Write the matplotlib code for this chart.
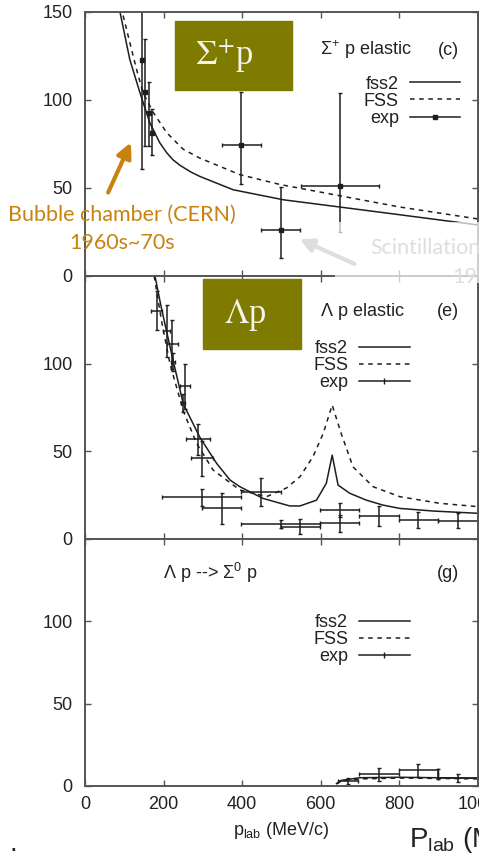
import numpy as np
import matplotlib
matplotlib.use('Agg')
import matplotlib.pyplot as plt
from matplotlib.lines import Line2D
from matplotlib.patches import Rectangle, FancyArrowPatch

plt.rcParams['font.family'] = ['Liberation Sans', 'DejaVu Sans']
plt.rcParams['mathtext.fontset'] = 'custom'
plt.rcParams['mathtext.rm'] = 'Liberation Sans'
plt.rcParams['mathtext.it'] = 'Liberation Sans:italic'
plt.rcParams['mathtext.bf'] = 'Liberation Sans:bold'

# --- Sigma+ p elastic (c) ---
sp_fss2_x = [89, 114, 140, 165, 190, 208, 224, 241, 270, 292, 377, 505, 648, 801, 1000]
sp_fss2_y = [150, 123, 104, 87, 75.8, 70, 66, 63, 59, 56.6, 49, 43.3, 39.2, 34.8, 29]
sp_fss_x = [97, 114, 131, 148, 174, 208, 250, 292, 394, 496, 648, 801, 1000]
sp_fss_y = [148, 132.7, 117.5, 104, 92.8, 81.4, 72, 67, 57.6, 52, 45.6, 39.2, 32.4]
sp_exp_x = [144, 152.5, 163.5, 171, 398, 498, 648]
sp_exp_y = [123, 104.6, 92.8, 81.4, 74.7, 25.9, 51.3]
sp_exp_xerr = [0, 0, 0, 0, 50, 49, 99]
sp_exp_ylo = [62, 30.8, 19, 12.4, 22.4, 15.8, 26.4]
sp_exp_yhi = [62, 30, 17.5, 13.3, 29.9, 24.7, 52.5]

# --- Lambda p elastic (e) ---
lp_fss2_x = [178, 195, 224, 250, 292, 335, 369, 394, 453, 521, 547, 589, 614,
             629, 644, 674, 716, 758, 801, 886, 1000]
lp_fss2_y = [150, 131, 102, 77, 58, 43, 33.5, 29.7, 23, 18.7, 18.7, 22, 31.6,
             47.7, 30.6, 25.9, 22, 19.2, 17.3, 15.8, 14.5]
lp_fss_x = [176, 195, 216, 250, 284, 326, 394, 462, 513, 547, 580, 606, 629,
            652, 682, 733, 801, 903, 1000]
lp_fss_y = [150, 124, 100, 73, 54.4, 39.2, 27.8, 24, 29, 35.4, 46.8, 60, 76.3,
            60, 41, 29.7, 24, 20.2, 18.3]
lp_exp_x = [182, 207.5, 222.6, 224.5, 254, 250, 288, 296.5, 296.5, 347.5,
            447.5, 497.5, 548, 648, 648, 748, 848, 949]
lp_exp_y = [130.3, 118.5, 111, 100.8, 87, 77.6, 56.7, 45.9, 23.6, 17.3,
            26.8, 8.4, 6.9, 16.4, 8.8, 13.1, 10.7, 10.3]
lp_exp_xerr = [13, 8, 14, 5, 13, 5, 30, 28, 100, 50,
               51, 100, 50, 50, 50, 50, 50, 50]
lp_exp_yerr = [11, 15, 14, 5, 13, 5, 9, 10, 5, 8.7,
               8, 2.5, 4.3, 4, 4.8, 5.7, 4.5, 4.3]

# --- Lambda p -> Sigma0 p (g) ---
ls_fss2_x = [640, 652, 699, 801, 900, 1000]
ls_fss2_y = [1.5, 3.4, 5.0, 5.3, 5.0, 4.7]
ls_fss_x = [640, 652, 699, 801, 900, 1000]
ls_fss_y = [1.2, 3.0, 4.3, 4.8, 4.6, 4.3]
ls_exp_x = [670, 748, 848, 897, 949]
ls_exp_y = [3.0, 7.2, 9.5, 7.2, 4.7]
ls_exp_xerr = [25, 50, 50, 0, 50]
ls_exp_yerr = [2.0, 4.0, 4.0, 3.2, 2.4]

xticks = [0, 200, 400, 600, 800, 1000]
yticks = [0, 50, 100, 150]

W, H = 479, 856
fig = plt.figure(figsize=(W / 100, H / 100), dpi=100)

ink = '#1e1e1e'
frame = '#555555'


def px(x0, y0, x1, y1):
    # pixel box -> figure fraction rect
    return [x0 / W, 1 - y1 / H, (x1 - x0) / W, (y1 - y0) / H]


ax1 = fig.add_axes(px(85, 12, 478, 276))
ax2 = fig.add_axes(px(85, 276, 478, 538.7))
ax3 = fig.add_axes(px(85, 538.7, 478, 786))

panels = [
    (ax1, sp_fss2_x, sp_fss2_y, sp_fss_x, sp_fss_y),
    (ax2, lp_fss2_x, lp_fss2_y, lp_fss_x, lp_fss_y),
    (ax3, ls_fss2_x, ls_fss2_y, ls_fss_x, ls_fss_y),
]
for ax, x2, y2, xf, yf in panels:
    ax.plot(x2, y2, color=ink, lw=1.1)
    ax.plot(xf, yf, color=ink, lw=1.1, dashes=(3, 3))
    ax.set_xlim(0, 1000)
    ax.set_ylim(0, 150)
    ax.set_xticks(xticks)
    ax.set_yticks(yticks)
    ax.tick_params(direction='in', top=True, right=True, length=4, width=1,
                   color=frame, labelsize=13, labelcolor='#222222', pad=9)
    for s in ax.spines.values():
        s.set_color(frame)
        s.set_linewidth(1.4)

ax1.errorbar(sp_exp_x, sp_exp_y, xerr=sp_exp_xerr,
             yerr=[sp_exp_ylo, sp_exp_yhi], fmt='s', ms=3, color=ink,
             ecolor=ink, elinewidth=1.1, capsize=1.5)
ax2.errorbar(lp_exp_x, lp_exp_y, xerr=lp_exp_xerr, yerr=lp_exp_yerr,
             fmt='none', ecolor=ink, elinewidth=1.1, capsize=1.5)
ax3.errorbar(ls_exp_x, ls_exp_y, xerr=ls_exp_xerr, yerr=ls_exp_yerr,
             fmt='none', ecolor=ink, elinewidth=1.1, capsize=1.5)

ax1.set_xticklabels([])
ax2.set_xticklabels([])
ax2.set_yticklabels(['0', '50', '100', ''])
ax3.set_yticklabels(['0', '50', '100', ''])
ax3.tick_params(axis='x', pad=7)
ax3.set_xlabel(r'p$_{\mathrm{lab}}$ (MeV/c)', fontsize=13, color='#222222',
               labelpad=5)

# panel titles
ax1.text(0.598, 0.856, r'$\Sigma^{+}$ p elastic', transform=ax1.transAxes,
         fontsize=13, va='center', color='#222222')
ax1.text(0.898, 0.856, '(c)', transform=ax1.transAxes, fontsize=13,
         va='center', color='#222222')
ax2.text(0.598, 0.864, r'$\Lambda$ p elastic', transform=ax2.transAxes,
         fontsize=13, va='center', color='#222222')
ax2.text(0.896, 0.864, '(e)', transform=ax2.transAxes, fontsize=13,
         va='center', color='#222222')
ax3.text(0.198, 0.861, r'$\Lambda$ p --> $\Sigma^{0}$ p',
         transform=ax3.transAxes, fontsize=13, va='center', color='#222222')
ax3.text(0.896, 0.861, '(g)', transform=ax3.transAxes, fontsize=13,
         va='center', color='#222222')

# legends
def add_legend(ax, marker, ms, anchor):
    hs = [Line2D([], [], color=ink, lw=1.1),
          Line2D([], [], color=ink, lw=1.1, dashes=(3, 3)),
          Line2D([], [], color=ink, lw=1.1, marker=marker, ms=ms)]
    ax.legend(hs, ['fss2', 'FSS', 'exp'], loc='upper right',
              bbox_to_anchor=anchor, frameon=False, markerfirst=False,
              fontsize=13, handlelength=2.8, handletextpad=0.6,
              labelspacing=0.01, borderpad=0, borderaxespad=0,
              labelcolor='#222222')


add_legend(ax1, 's', 3.5, (0.955, 0.759))
add_legend(ax2, '|', 5, (0.826, 0.756))
add_legend(ax3, '|', 5, (0.826, 0.696))

# slide overlays
olive = '#7f7a00'
fig.add_artist(Rectangle((175 / W, 1 - 90 / H), 117 / W, 69 / H,
                         transform=fig.transFigure, color=olive, zorder=5))
fig.text(195 / W, 1 - 56 / H, r'$\Sigma^{+}$p', fontsize=25,
         family='Liberation Serif', math_fontfamily='stix', color='#f4f4ea',
         va='center', ha='left', zorder=6)
fig.add_artist(Rectangle((203 / W, 1 - 349 / H), 98 / W, 70 / H,
                         transform=fig.transFigure, color=olive, zorder=5))
fig.text(245 / W, 1 - 315 / H, r'$\Lambda$p', fontsize=25,
         family='Liberation Serif', math_fontfamily='stix', color='#f4f4ea',
         va='center', ha='center', zorder=6)

orange = '#c8820f'
fig.add_artist(FancyArrowPatch((107 / W, 1 - 195 / H), (132 / W, 1 - 140 / H),
                               transform=fig.transFigure, arrowstyle='-|>',
                               mutation_scale=22, lw=3, color=orange,
                               zorder=6))
fig.text(122 / W, 1 - 215 / H, 'Bubble chamber (CERN)', fontsize=15.5,
         family='Lato', color=orange, ha='center', va='center', zorder=6)
fig.text(122 / W, 1 - 243 / H, '1960s~70s', fontsize=15.5, family='Lato',
         color=orange, ha='center', va='center', zorder=6)

fig.add_artist(Rectangle((335 / W, 1 - 283 / H), 144 / W, 61 / H,
                         transform=fig.transFigure, color='white', alpha=0.7,
                         lw=0, zorder=5))
grey = '#dedede'
fig.add_artist(FancyArrowPatch((357 / W, 1 - 265 / H), (297 / W, 1 - 238 / H),
                               transform=fig.transFigure, arrowstyle='-|>',
                               mutation_scale=20, lw=3, color=grey, zorder=6))
fig.text(370 / W, 1 - 248 / H, 'Scintillation', fontsize=15.5, family='Lato',
         color=grey, ha='left', va='center', zorder=6)
fig.text(452 / W, 1 - 277 / H, '1990s', fontsize=15.5, family='Lato',
         color=grey, ha='left', va='center', zorder=6)

fig.text(409 / W, 1 - 847 / H, r'P$_{\mathrm{lab}}$ (MeV/c)', fontsize=20,
         color='#222222', ha='left', va='baseline')
fig.text(13 / W, 1 - 851 / H, '.', fontsize=20, color='#222222',
         ha='center', va='baseline')

fig.savefig('out.png', dpi=100)
